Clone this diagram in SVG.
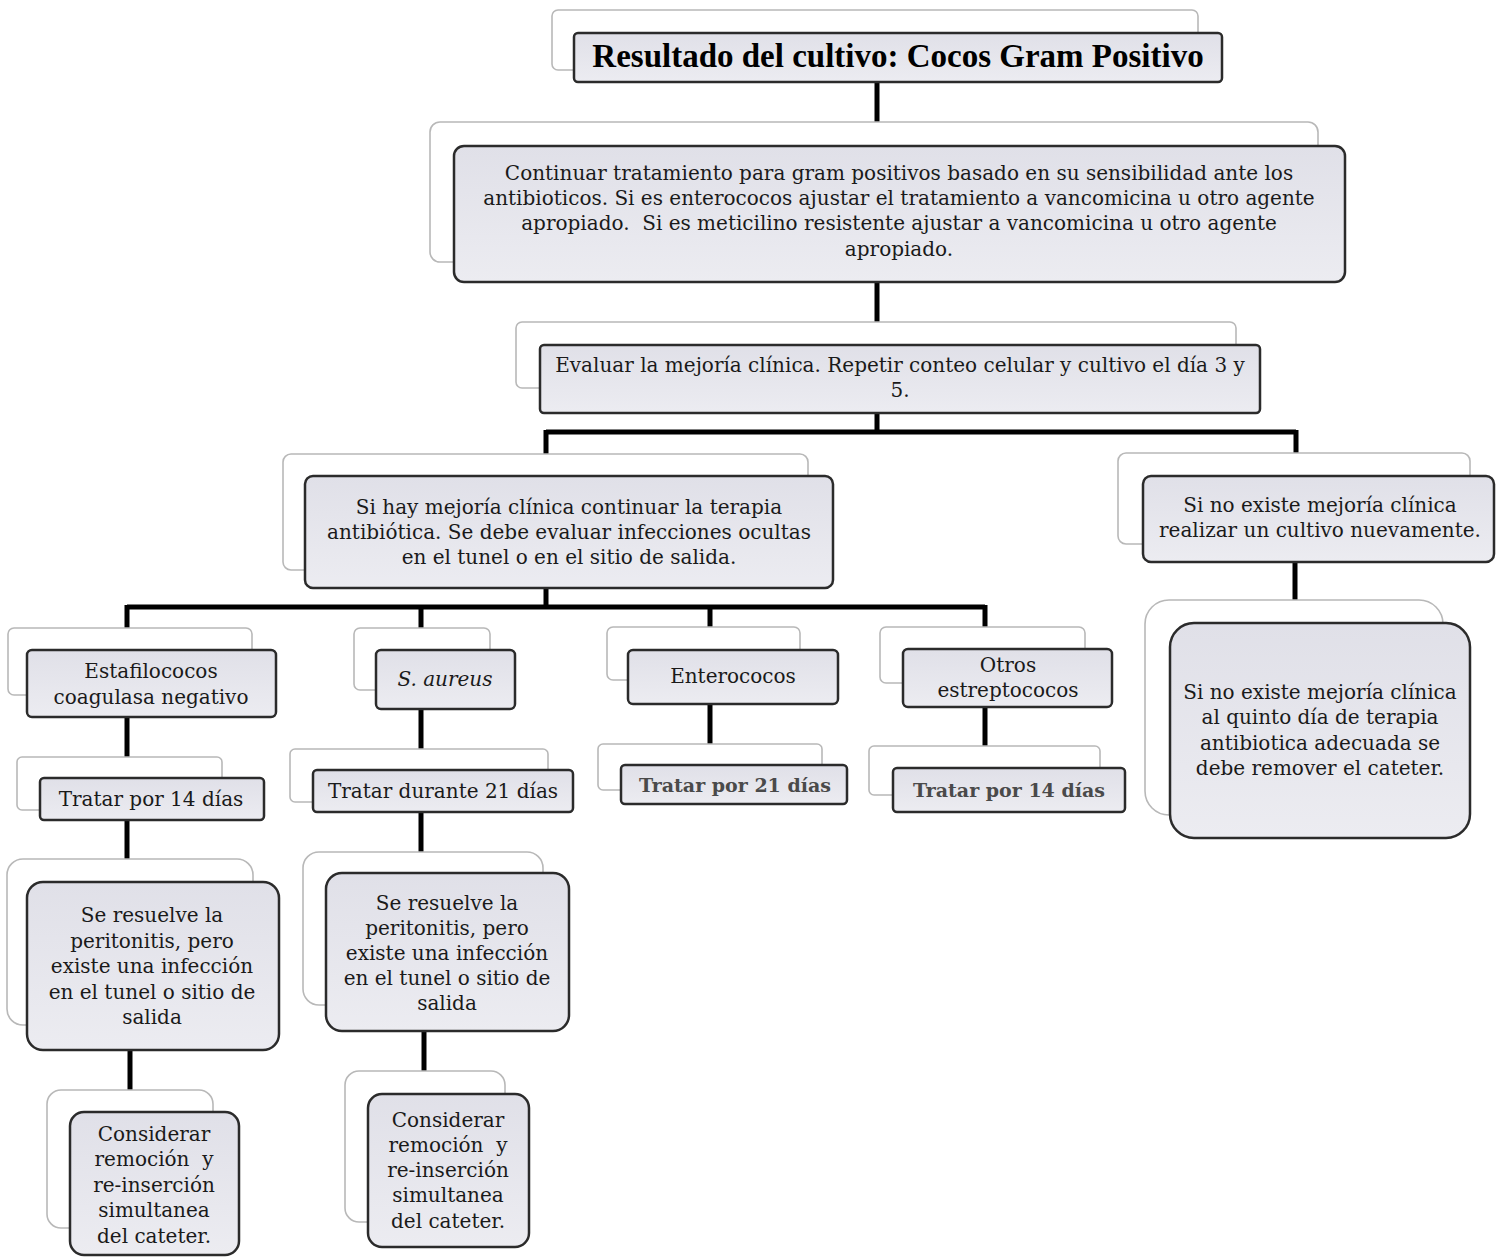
<svg xmlns="http://www.w3.org/2000/svg" width="1500" height="1257" viewBox="0 0 1500 1257">
<defs>
<linearGradient id="g" x1="0" y1="0" x2="0" y2="1">
<stop offset="0" stop-color="#e0e0e8"/>
<stop offset="1" stop-color="#ececf1"/>
</linearGradient>
<style>
.bk{fill:#ffffff;stroke:#b8b8b8;stroke-width:1.6}
.fr{fill:url(#g);stroke:#2b2b2b;stroke-width:2.5}
.t{font-family:"DejaVu Serif","Liberation Serif",serif;font-size:20px;fill:#1a1a1a;text-anchor:middle}
.tb{font-family:"DejaVu Serif","Liberation Serif",serif;font-size:19px;font-weight:bold;fill:#4a4a4a;text-anchor:middle}
.ti{font-family:"Liberation Serif","DejaVu Serif",serif;font-size:33px;font-weight:bold;fill:#000;text-anchor:middle}
.c{fill:none;stroke:#000;stroke-width:5}
</style>
</defs>
<rect width="1500" height="1257" fill="#fff"/>
<g id="connectors">
<path class="c" d="M877 82V146"/>
<path class="c" d="M877 282V345"/>
<path class="c" d="M877 413V432M546 432H1296M546 430V476M1296 430V476"/>
<path class="c" d="M1295 562V623"/>
<path class="c" d="M546 588V607M127 607H985M127 605V650M421 605V650M710 605V650M985 605V649"/>
<path class="c" d="M127 717V778"/>
<path class="c" d="M421 709V770"/>
<path class="c" d="M710 704V765"/>
<path class="c" d="M985 707V768"/>
<path class="c" d="M127 820V882"/>
<path class="c" d="M421 812V873"/>
<path class="c" d="M130 1050V1112"/>
<path class="c" d="M424 1031V1094"/>
</g>
<g id="n1">
<rect class="bk" x="552" y="10" width="646" height="60" rx="6"/>
<rect class="fr" x="574" y="33" width="648" height="49" rx="4"/>
<text class="ti" x="898" y="67">Resultado del cultivo: Cocos Gram Positivo</text>
</g>
<g id="n2">
<rect class="bk" x="430" y="122" width="888" height="140" rx="10"/>
<rect class="fr" x="454" y="146" width="891" height="136" rx="10"/>
<text class="t" x="899" y="180">Continuar tratamiento para gram positivos basado en su sensibilidad ante los</text>
<text class="t" x="899" y="205">antibioticos. Si es enterococos ajustar el tratamiento a vancomicina u otro agente</text>
<text class="t" x="899" y="230">apropiado.&#160; Si es meticilino resistente ajustar a vancomicina u otro agente</text>
<text class="t" x="899" y="256">apropiado.</text>
</g>
<g id="n3">
<rect class="bk" x="516" y="322" width="720" height="66" rx="6"/>
<rect class="fr" x="540" y="345" width="720" height="68" rx="4"/>
<text class="t" x="900" y="372">Evaluar la mejoría clínica. Repetir conteo celular y cultivo el día 3 y</text>
<text class="t" x="900" y="397">5.</text>
</g>
<g id="n4">
<rect class="bk" x="283" y="454" width="525" height="116" rx="8"/>
<rect class="fr" x="305" y="476" width="528" height="112" rx="8"/>
<text class="t" x="569" y="514">Si hay mejoría clínica continuar la terapia</text>
<text class="t" x="569" y="539">antibiótica. Se debe evaluar infecciones ocultas</text>
<text class="t" x="569" y="564">en el tunel o en el sitio de salida.</text>
</g>
<g id="n5">
<rect class="bk" x="1118" y="453" width="352" height="91" rx="8"/>
<rect class="fr" x="1143" y="476" width="351" height="86" rx="8"/>
<text class="t" x="1320" y="512">Si no existe mejoría clínica</text>
<text class="t" x="1320" y="537">realizar un cultivo nuevamente.</text>
</g>
<g id="n6">
<rect class="bk" x="1145" y="600" width="298" height="215" rx="24"/>
<rect class="fr" x="1170" y="623" width="300" height="215" rx="24"/>
<text class="t" x="1320" y="699">Si no existe mejoría clínica</text>
<text class="t" x="1320" y="724">al quinto día de terapia</text>
<text class="t" x="1320" y="750">antibiotica adecuada se</text>
<text class="t" x="1320" y="775">debe remover el cateter.</text>
</g>
<g id="n7">
<rect class="bk" x="8" y="628" width="244" height="67" rx="6"/>
<rect class="fr" x="27" y="650" width="249" height="67" rx="5"/>
<text class="t" x="151" y="678">Estafilococos</text>
<text class="t" x="151" y="704">coagulasa negativo</text>
</g>
<g id="n8">
<rect class="bk" x="354" y="628" width="136" height="62" rx="6"/>
<rect class="fr" x="376" y="650" width="139" height="59" rx="5"/>
<text class="t" x="445" y="686" font-style="italic">S. aureus</text>
</g>
<g id="n9">
<rect class="bk" x="607" y="627" width="193" height="53" rx="6"/>
<rect class="fr" x="628" y="650" width="210" height="54" rx="5"/>
<text class="t" x="733" y="683">Enterococos</text>
</g>
<g id="n10">
<rect class="bk" x="880" y="627" width="205" height="56" rx="6"/>
<rect class="fr" x="903" y="649" width="209" height="58" rx="5"/>
<text class="t" x="1008" y="672">Otros</text>
<text class="t" x="1008" y="697">estreptococos</text>
</g>
<g id="n11">
<rect class="bk" x="17" y="757" width="205" height="53" rx="5"/>
<rect class="fr" x="40" y="778" width="224" height="42" rx="4"/>
<text class="t" x="151" y="806">Tratar por 14 días</text>
</g>
<g id="n12">
<rect class="bk" x="290" y="749" width="258" height="53" rx="5"/>
<rect class="fr" x="313" y="770" width="260" height="42" rx="4"/>
<text class="t" x="443" y="798">Tratar durante 21 días</text>
</g>
<g id="n13">
<rect class="bk" x="598" y="744" width="224" height="46" rx="5"/>
<rect class="fr" x="621" y="765" width="226" height="39" rx="4"/>
<text class="tb" x="735" y="792">Tratar por 21 días</text>
</g>
<g id="n14">
<rect class="bk" x="869" y="746" width="231" height="49" rx="5"/>
<rect class="fr" x="893" y="768" width="232" height="44" rx="4"/>
<text class="tb" x="1009" y="797">Tratar por 14 días</text>
</g>
<g id="n15">
<rect class="bk" x="7" y="859" width="246" height="166" rx="16"/>
<rect class="fr" x="27" y="882" width="252" height="168" rx="16"/>
<text class="t" x="152" y="922">Se resuelve la</text>
<text class="t" x="152" y="948">peritonitis, pero</text>
<text class="t" x="152" y="973">existe una infección</text>
<text class="t" x="152" y="999">en el tunel o sitio de</text>
<text class="t" x="152" y="1024">salida</text>
</g>
<g id="n16">
<rect class="bk" x="303" y="852" width="240" height="153" rx="16"/>
<rect class="fr" x="326" y="873" width="243" height="158" rx="16"/>
<text class="t" x="447" y="910">Se resuelve la</text>
<text class="t" x="447" y="935">peritonitis, pero</text>
<text class="t" x="447" y="960">existe una infección</text>
<text class="t" x="447" y="985">en el tunel o sitio de</text>
<text class="t" x="447" y="1010">salida</text>
</g>
<g id="n17">
<rect class="bk" x="47" y="1090" width="166" height="138" rx="14"/>
<rect class="fr" x="70" y="1112" width="169" height="143" rx="14"/>
<text class="t" x="154" y="1141">Considerar</text>
<text class="t" x="154" y="1166">remoción&#160; y</text>
<text class="t" x="154" y="1192">re-inserción</text>
<text class="t" x="154" y="1217">simultanea</text>
<text class="t" x="154" y="1243">del cateter.</text>
</g>
<g id="n18">
<rect class="bk" x="345" y="1071" width="160" height="151" rx="14"/>
<rect class="fr" x="368" y="1094" width="161" height="153" rx="14"/>
<text class="t" x="448" y="1127">Considerar</text>
<text class="t" x="448" y="1152">remoción&#160; y</text>
<text class="t" x="448" y="1177">re-inserción</text>
<text class="t" x="448" y="1202">simultanea</text>
<text class="t" x="448" y="1228">del cateter.</text>
</g>
</svg>
